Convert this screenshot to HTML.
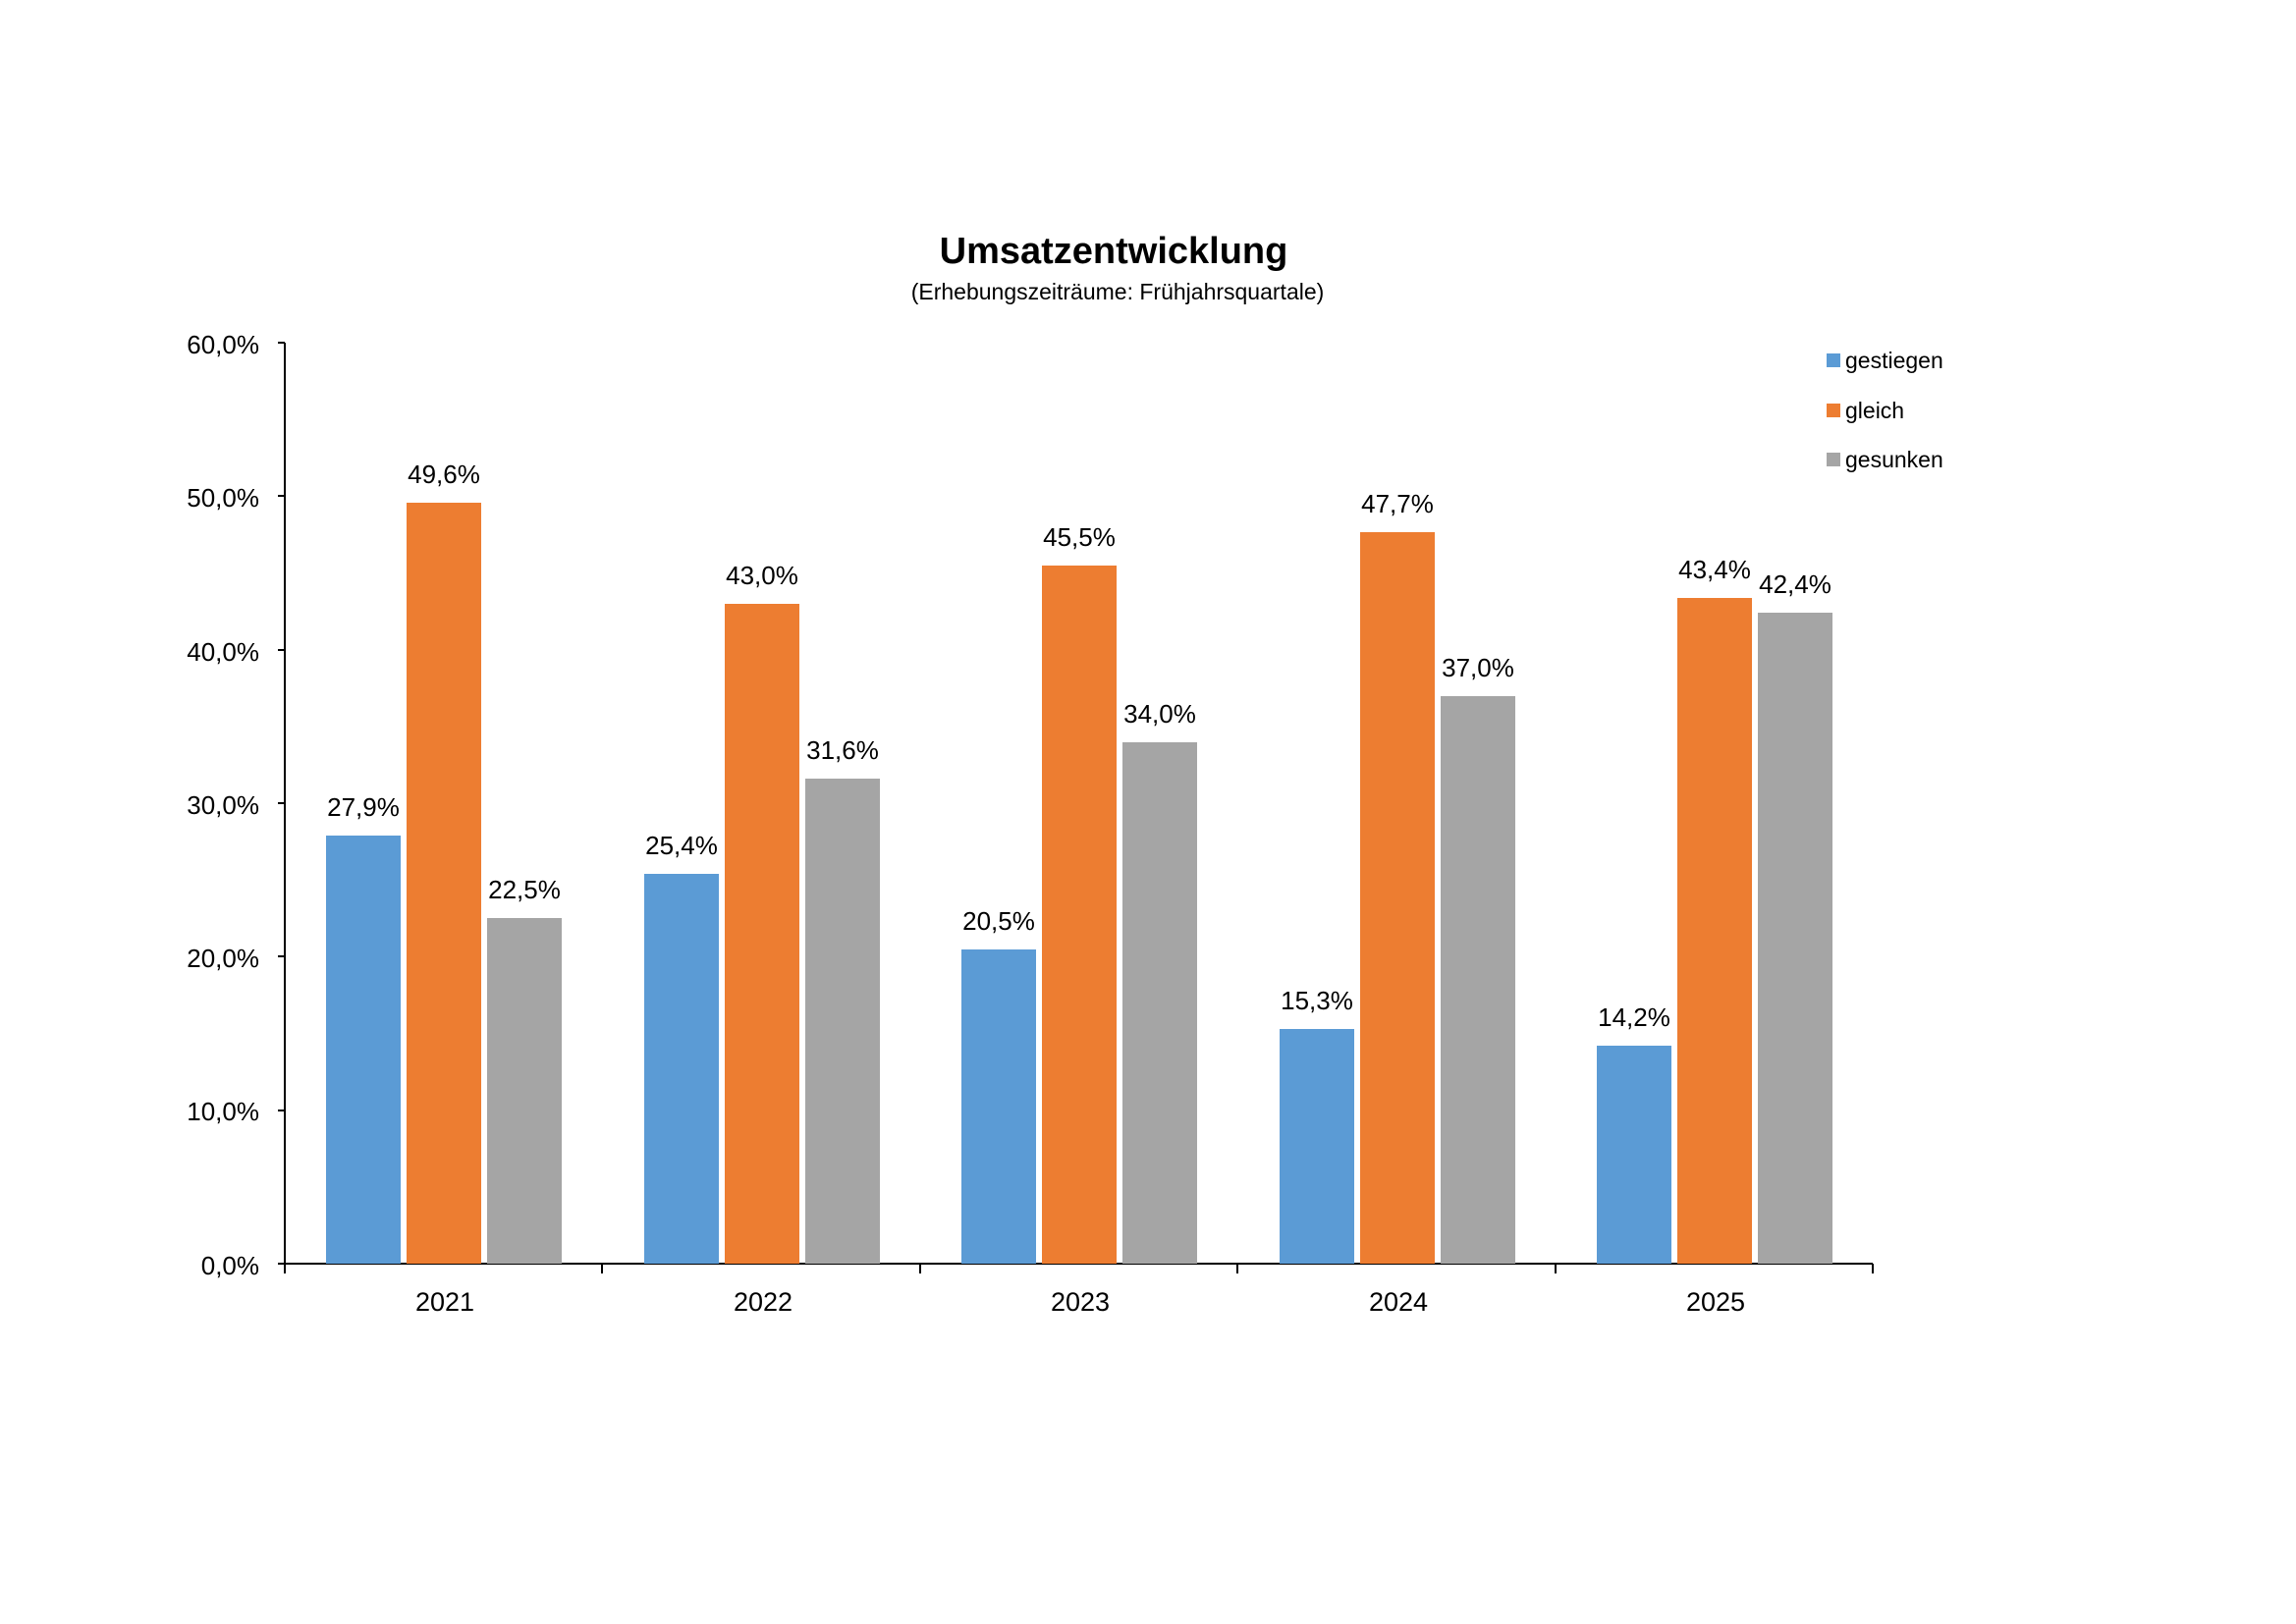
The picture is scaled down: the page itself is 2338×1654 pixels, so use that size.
<!DOCTYPE html>
<html><head><meta charset="utf-8"><style>
html,body{margin:0;padding:0;background:#fff;}
svg{display:block;}
text{font-family:"Liberation Sans",sans-serif;fill:#000;}
</style></head><body>
<svg width="2338" height="1654" viewBox="0 0 2338 1654" xmlns="http://www.w3.org/2000/svg">
<rect width="2338" height="1654" fill="#fff"/>
<text x="1134" y="268" font-size="38" font-weight="bold" text-anchor="middle">Umsatzentwicklung</text>
<text x="1138" y="305" font-size="23" text-anchor="middle">(Erhebungszeiträume: Frühjahrsquartale)</text>
<g font-size="26" text-anchor="end">
<text x="264" y="360">60,0%</text>
<text x="264" y="516">50,0%</text>
<text x="264" y="673">40,0%</text>
<text x="264" y="829">30,0%</text>
<text x="264" y="985">20,0%</text>
<text x="264" y="1141">10,0%</text>
<text x="264" y="1298">0,0%</text>
</g>
<g stroke="#000" stroke-width="2">
<line x1="290" y1="349" x2="290" y2="1297"/>
<line x1="283" y1="349" x2="290" y2="349"/>
<line x1="283" y1="505" x2="290" y2="505"/>
<line x1="283" y1="662" x2="290" y2="662"/>
<line x1="283" y1="818" x2="290" y2="818"/>
<line x1="283" y1="974" x2="290" y2="974"/>
<line x1="283" y1="1131" x2="290" y2="1131"/>
<line x1="283" y1="1287" x2="1907" y2="1287"/>
<line x1="613" y1="1287" x2="613" y2="1297"/>
<line x1="937" y1="1287" x2="937" y2="1297"/>
<line x1="1260" y1="1287" x2="1260" y2="1297"/>
<line x1="1584" y1="1287" x2="1584" y2="1297"/>
<line x1="1907" y1="1287" x2="1907" y2="1297"/>
</g>
<g font-size="27" text-anchor="middle">
<text x="453" y="1335">2021</text>
<text x="777" y="1335">2022</text>
<text x="1100" y="1335">2023</text>
<text x="1424" y="1335">2024</text>
<text x="1747" y="1335">2025</text>
</g>
<rect x="1860" y="360" width="14" height="14" fill="#5b9bd5"/>
<rect x="1860" y="411" width="14" height="14" fill="#ed7d31"/>
<rect x="1860" y="461" width="14" height="14" fill="#a5a5a5"/>
<g font-size="23">
<text x="1879" y="375">gestiegen</text>
<text x="1879" y="426">gleich</text>
<text x="1879" y="476">gesunken</text>
</g>
<g>
<rect x="332" y="851" width="76" height="436" fill="#5b9bd5"/>
<rect x="414" y="512" width="76" height="775" fill="#ed7d31"/>
<rect x="496" y="935" width="76" height="352" fill="#a5a5a5"/>
<rect x="656" y="890" width="76" height="397" fill="#5b9bd5"/>
<rect x="738" y="615" width="76" height="672" fill="#ed7d31"/>
<rect x="820" y="793" width="76" height="494" fill="#a5a5a5"/>
<rect x="979" y="967" width="76" height="320" fill="#5b9bd5"/>
<rect x="1061" y="576" width="76" height="711" fill="#ed7d31"/>
<rect x="1143" y="756" width="76" height="531" fill="#a5a5a5"/>
<rect x="1303" y="1048" width="76" height="239" fill="#5b9bd5"/>
<rect x="1385" y="542" width="76" height="745" fill="#ed7d31"/>
<rect x="1467" y="709" width="76" height="578" fill="#a5a5a5"/>
<rect x="1626" y="1065" width="76" height="222" fill="#5b9bd5"/>
<rect x="1708" y="609" width="76" height="678" fill="#ed7d31"/>
<rect x="1790" y="624" width="76" height="663" fill="#a5a5a5"/>
</g>
<g font-size="26" text-anchor="middle">
<text x="370" y="831">27,9%</text>
<text x="452" y="492">49,6%</text>
<text x="534" y="915">22,5%</text>
<text x="694" y="870">25,4%</text>
<text x="776" y="595">43,0%</text>
<text x="858" y="773">31,6%</text>
<text x="1017" y="947">20,5%</text>
<text x="1099" y="556">45,5%</text>
<text x="1181" y="736">34,0%</text>
<text x="1341" y="1028">15,3%</text>
<text x="1423" y="522">47,7%</text>
<text x="1505" y="689">37,0%</text>
<text x="1664" y="1045">14,2%</text>
<text x="1746" y="589">43,4%</text>
<text x="1828" y="604">42,4%</text>
</g>
</svg>
</body></html>
